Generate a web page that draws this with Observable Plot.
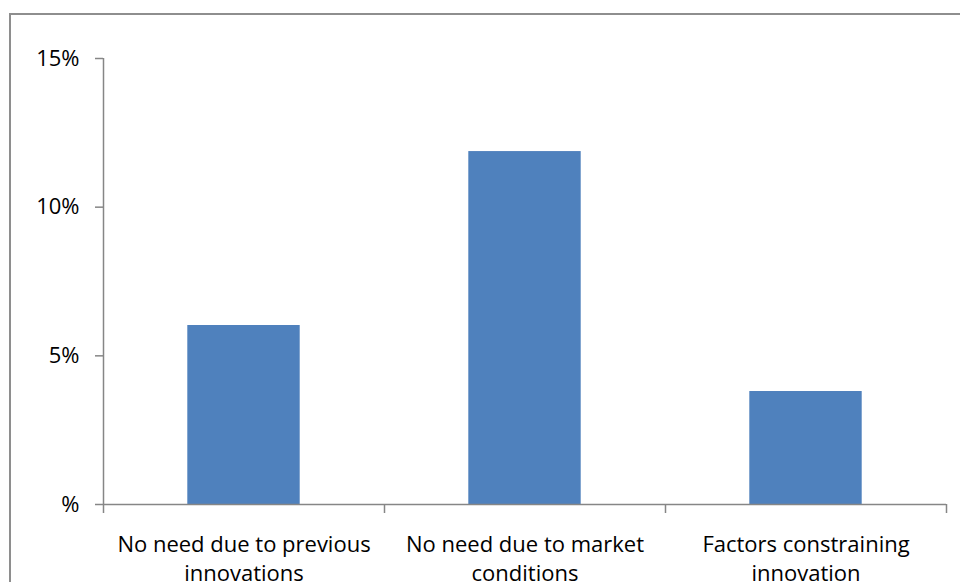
<!DOCTYPE html>
<html>
<head>
<meta charset="utf-8">
<script src="https://cdn.jsdelivr.net/npm/d3@7"></script>
<script src="https://cdn.jsdelivr.net/npm/@observablehq/plot@0.6"></script>
<style>
  html, body { margin: 0; padding: 0; background: #fff; }
  #wrap { position: relative; width: 960px; height: 582px; overflow: hidden; }
  #frame { position: absolute; left: 9px; top: 13px; width: 1000px; height: 700px;
           border-left: 2px solid #8e8e8e; border-top: 2px solid #8e8e8e; box-sizing: border-box; }
  #chart { position: absolute; left: 0; top: 0; }
</style>
</head>
<body>
<div id="wrap"><div id="frame"></div><div id="chart"></div></div>
<script>
const categories = [
  "No need due to previous\ninnovations",
  "No need due to market\nconditions",
  "Factors constraining\ninnovation"
];
const values = [0.0602, 0.1187, 0.0380];
const yTicks = [0, 0.05, 0.10, 0.15];
const yTickLabels = ["%", "5%", "10%", "15%"];

const data = categories.map((c, i) => ({category: c, index: i, value: values[i]}));
const bounds = d3.range(categories.length + 1);
const font = "'Open Sans', sans-serif";
const axisColor = "#868686";

const chart = Plot.plot({
  width: 960,
  height: 582,
  marginTop: 58,
  marginBottom: 78,
  marginLeft: 103,
  marginRight: 14,
  style: {fontFamily: font, fontSize: "22px", color: "#000", background: "transparent", overflow: "visible"},
  x: {type: "linear", domain: [0, categories.length]},
  y: {domain: [0, 0.15]},
  marks: [
    Plot.rectY(data, {x1: d => d.index + 0.3, x2: d => d.index + 0.7, y1: 0, y2: "value", fill: "#4f81bd"}),
    Plot.ruleY([0], {stroke: axisColor, strokeWidth: 1.5}),
    Plot.ruleX([0], {stroke: axisColor, strokeWidth: 1.5}),
    Plot.axisX({ticks: bounds, tickSize: 9, tickFormat: () => "", stroke: axisColor, strokeWidth: 1.5, label: null}),
    Plot.axisY({ticks: yTicks, tickFormat: d => yTickLabels[yTicks.indexOf(d)], tickSize: 8, tickPadding: 16,
      stroke: axisColor, strokeWidth: 1.5, fontSize: 22, label: null, fill: "#000"}),
    Plot.text(data, {x: d => d.index + 0.5, text: "category", frameAnchor: "bottom", lineAnchor: "top",
      dy: 26.4, lineHeight: 1.32, fontSize: 22, fill: "#000"})
  ]
});
document.getElementById("chart").appendChild(chart);
</script>
</body>
</html>
